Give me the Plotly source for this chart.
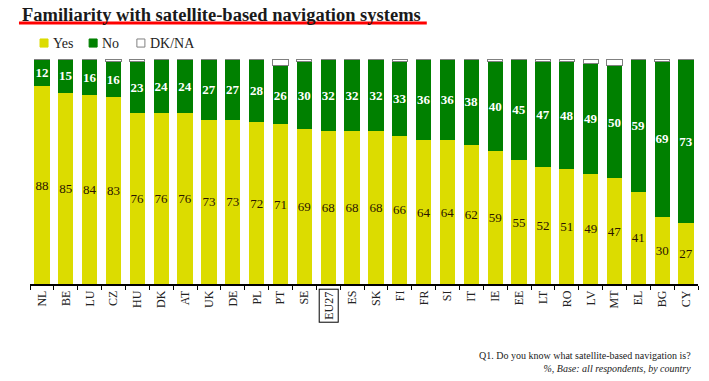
import plotly.graph_objects as go

countries = ["NL", "BE", "LU", "CZ", "HU", "DK", "AT", "UK", "DE", "PL", "PT", "SE", "EU27", "ES",
             "SK", "FI", "FR", "SI", "IT", "IE", "EE", "LT", "RO", "LV", "MT", "EL", "BG", "CY"]
yes = [88, 85, 84, 83, 76, 76, 76, 73, 73, 72, 71, 69, 68, 68, 68, 66, 64, 64, 62, 59, 55, 52, 51, 49, 47, 41, 30, 27]
no = [12, 15, 16, 16, 23, 24, 24, 27, 27, 28, 26, 30, 32, 32, 32, 33, 36, 36, 38, 40, 45, 47, 48, 49, 50, 59, 69, 73]
dkna = [0, 0, 0, 1, 1, 0, 0, 0, 0, 0, 3, 1, 0, 0, 1, 1, 0, 0, 0, 1, 0, 1, 1, 2, 3, 0, 1, 0]
series_names = ["Yes", "No", "DK/NA"]

SERIF = "Liberation Serif, DejaVu Serif, serif"
YELLOW = "#dcdc00"
GREEN = "#008000"
GREY = "#808080"

fig = go.Figure()
fig.add_trace(go.Bar(
    x=countries, y=yes, name=series_names[0], marker=dict(color=YELLOW, line=dict(width=0)),
    text=[str(v) for v in yes], textposition="inside", insidetextanchor="middle",
    textangle=0, constraintext="none", cliponaxis=False,
    textfont=dict(family=SERIF, size=13, color="#2a1400"),
))
fig.add_trace(go.Bar(
    x=countries, y=no, name=series_names[1], marker=dict(color=GREEN, line=dict(width=0)),
    text=["<b>%d</b>" % v for v in no], textposition="inside", insidetextanchor="middle",
    textangle=0, constraintext="none", cliponaxis=False,
    textfont=dict(family=SERIF, size=13, color="white"),
))
fig.add_trace(go.Bar(
    x=countries, y=dkna, name=series_names[2],
    marker=dict(color="white", line=dict(color=GREY, width=1)),
    textposition="none",
))

fig.update_layout(
    barmode="stack", bargap=0.36,
    width=709, height=381,
    margin=dict(l=30, r=11, t=59, b=97, autoexpand=False),
    plot_bgcolor="white", paper_bgcolor="white",
    showlegend=False,
    font=dict(family=SERIF),
)
fig.update_xaxes(
    type="category", showline=True, linecolor="black", linewidth=1.5,
    ticks="outside", tickson="boundaries", ticklen=4, tickcolor="black",
    tickangle=-90, tickfont=dict(family=SERIF, size=12, color="#222"),
    ticktext=[("" if c == "EU27" else c) for c in countries], tickvals=countries,
    automargin=False,
)
fig.update_yaxes(range=[0, 100], visible=False)

# EU27 boxed label
fig.add_annotation(x="EU27", xref="x", y=-0.02, yref="paper", yanchor="top",
                   text="EU27", textangle=-90, showarrow=False,
                   font=dict(family=SERIF, size=12, color="#222"),
                   bordercolor="black", borderwidth=1, borderpad=2)

# Title with red underline
fig.add_annotation(x=-0.015, xref="paper", y=1.196, yref="paper", xanchor="left", yanchor="middle",
                   text="<b>Familiarity with satellite-based navigation systems</b>", showarrow=False,
                   font=dict(family=SERIF, size=18.5, color="#1a1a1a"))
fig.add_shape(type="line", xref="paper", yref="paper", x0=-0.0165, x1=0.594, y0=1.16, y1=1.16,
              line=dict(color="red", width=3))

# Manual legend
legend_items = [
    (series_names[0], YELLOW, YELLOW, 0.015),
    (series_names[1], GREEN, GREEN, 0.0885),
    (series_names[2], "white", GREY, 0.160),
]
for name, fill, border, x0 in legend_items:
    fig.add_shape(type="rect", xref="paper", yref="paper", x0=x0, x1=x0 + 0.012,
                  y0=1.053, y1=1.089, fillcolor=fill, line=dict(color=border, width=1))
    fig.add_annotation(x=x0 + 0.017, xref="paper", y=1.071, yref="paper", xanchor="left",
                       yanchor="middle", text=name, showarrow=False,
                       font=dict(family=SERIF, size=14, color="#222"))

# Footnotes
fig.add_annotation(x=0.9925, xref="paper", y=-0.285, yref="paper", xanchor="right", yanchor="top",
                   text="Q1. Do you know what satellite-based navigation is?<br><i>%, Base: all respondents, by country</i>",
                   align="right", showarrow=False,
                   font=dict(family=SERIF, size=10, color="#222"))

fig.write_html("out.html", config={"displayModeBar": False},
               post_script="document.body.style.margin='0';document.body.style.overflow='hidden';")
